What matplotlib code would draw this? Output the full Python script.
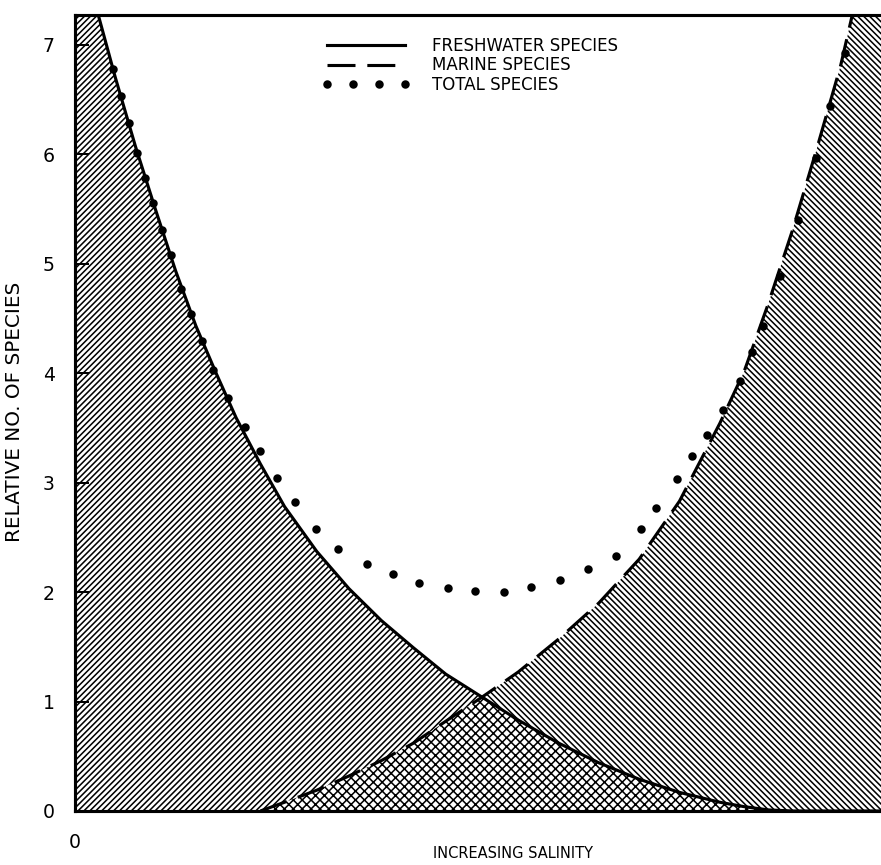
import numpy as np
import matplotlib
matplotlib.use("Agg")
import matplotlib.pyplot as plt
from matplotlib.lines import Line2D

plt.rcParams["font.family"] = ["DejaVu Sans"]
plt.rcParams["hatch.linewidth"] = 0.7

# Relative number of species along a salinity gradient
salinity = [0.0, 0.3, 0.5, 0.75, 1.0, 1.25, 1.5, 1.75, 2.0, 2.3,
            2.6, 3.0, 3.4, 3.8, 4.2, 4.6, 5.05, 5.5, 6.0, 6.5,
            7.0, 7.5, 8.0, 8.3, 8.6, 8.9, 9.2, 9.5, 9.7, 10.0]
freshwater = [8.0, 7.24, 6.70, 6.07, 5.49, 4.93, 4.43, 4.00, 3.59, 3.17,
              2.78, 2.37, 2.03, 1.74, 1.49, 1.25, 1.04, 0.83, 0.62, 0.44,
              0.29, 0.17, 0.08, 0.04, 0.01, 0.0, 0.0, 0.0, 0.0, 0.0]
marine = [0.0, 0.0, 0.0, 0.0, 0.0, 0.0, 0.0, 0.0, 0.0, 0.0,
          0.08, 0.19, 0.32, 0.46, 0.62, 0.82, 1.04, 1.27, 1.57, 1.90,
          2.30, 2.83, 3.54, 4.01, 4.63, 5.30, 6.04, 6.81, 7.45, 8.4]

total_x = [0.47, 0.57, 0.67, 0.77, 0.87, 0.97, 1.08, 1.19, 1.31, 1.44,
           1.57, 1.71, 1.90, 2.11, 2.30, 2.51, 2.73, 2.99, 3.26, 3.62,
           3.95, 4.27, 4.63, 4.96, 5.32, 5.66, 6.02, 6.36, 6.71, 7.02,
           7.21, 7.47, 7.66, 7.84, 8.04, 8.25, 8.40, 8.54, 8.75, 8.97,
           9.19, 9.37, 9.55]
total_y = [6.78, 6.53, 6.28, 6.01, 5.78, 5.55, 5.31, 5.08, 4.77, 4.54,
           4.29, 4.03, 3.77, 3.51, 3.29, 3.04, 2.82, 2.58, 2.39, 2.26,
           2.16, 2.08, 2.04, 2.01, 2.00, 2.05, 2.11, 2.21, 2.33, 2.58,
           2.77, 3.03, 3.24, 3.43, 3.66, 3.93, 4.19, 4.43, 4.89, 5.40,
           5.96, 6.44, 6.92]

y_ticks = [0, 1, 2, 3, 4, 5, 6, 7]
legend_labels = ["FRESHWATER SPECIES", "MARINE SPECIES", "TOTAL SPECIES"]

W, H, DPI = 881, 865, 160
fig = plt.figure(figsize=(W / DPI, H / DPI), dpi=DPI)
ax = fig.add_axes([75 / W, 54 / H, 806 / W, 796 / H])

x = np.asarray(salinity)
f = np.asarray(freshwater)
m = np.asarray(marine)
overlap = np.minimum(f, m)

# hatched areas: freshwater only, marine only, and both
ax.fill_between(x, m, f, where=f >= m, interpolate=True, hatch="/" * 9,
                facecolor="none", edgecolor="black", linewidth=0)
ax.fill_between(x, f, m, where=m >= f, interpolate=True, hatch="\\" * 9,
                facecolor="none", edgecolor="black", linewidth=0)
ax.fill_between(x, 0, overlap, hatch="x" * 6,
                facecolor="none", edgecolor="black", linewidth=0)

# curves
ax.plot(x, f, color="black", lw=1.4, solid_capstyle="butt")
start = 9
ax.plot(x[start:], m[start:], color="black", lw=1.4,
        linestyle=(0, (9.0, 3.8)))
ax.plot(total_x, total_y, linestyle="none", marker="o", ms=2.8,
        color="black")

ax.set_xlim(0, 10)
ax.set_ylim(0, 7.27)

for side in ("left", "bottom", "top"):
    ax.spines[side].set_linewidth(1.4)
ax.spines["right"].set_visible(False)

ax.set_yticks(y_ticks)
ax.set_yticklabels([str(v) for v in y_ticks])
ax.tick_params(axis="y", direction="in", length=6.5, width=0.9, pad=9,
               labelsize=8.5)
ax.set_xticks([0])
ax.set_xticklabels(["0"])
ax.tick_params(axis="x", length=0, pad=10, labelsize=8.5)

handles = [
    Line2D([], [], color="black", lw=1.4),
    Line2D([], [], color="black", lw=1.4, linestyle=(0, (9.0, 3.8))),
    Line2D([], [], color="black", linestyle="none", marker="o", ms=2.8),
]
ax.legend(handles, legend_labels, loc="upper left",
          bbox_to_anchor=(322 / W, 1 - 37 / H),
          bbox_transform=fig.transFigure, frameon=False, fontsize=7.5,
          numpoints=4, handlelength=5.3, handletextpad=1.3,
          labelspacing=0.08, borderpad=0, borderaxespad=0)

fig.text(15 / W, 1 - 412 / H, "RELATIVE NO. OF SPECIES", rotation=90,
         ha="center", va="center", fontsize=9.0)
fig.text(513 / W, 1 - 854 / H, "INCREASING SALINITY",
         ha="center", va="center", fontsize=6.6)

fig.savefig("out.png", dpi=DPI)
